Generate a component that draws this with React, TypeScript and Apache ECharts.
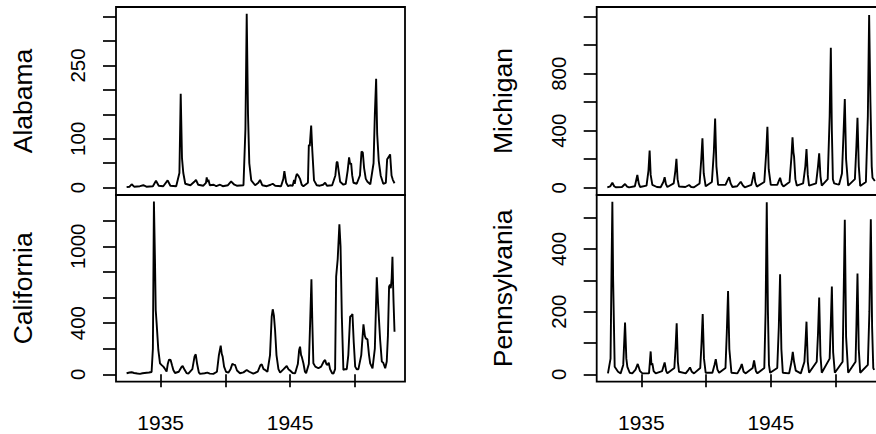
import React, { useEffect, useRef } from "react";
import * as echarts from "echarts";

const FONT = "'Liberation Sans', Arial, Helvetica, sans-serif";

const panelNames = ["Alabama", "California", "Michigan", "Pennsylvania"];

const xTickValues = [1935, 1940, 1945, 1950];
const xLabelValues = [1935, 1945];

const alabamaTicks = [0, 50, 100, 150, 200, 250, 300, 350];
const alabamaLabels = [0, 100, 250];
const californiaTicks = [0, 200, 400, 600, 800, 1000, 1200];
const californiaLabels = [0, 400, 1000];
const michiganTicks = [0, 200, 400, 600, 800, 1000, 1200];
const michiganLabels = [0, 400, 800];
const pennsylvaniaTicks = [0, 100, 200, 300, 400, 500];
const pennsylvaniaLabels = [0, 200, 400];

const alabama: [number, number][] = [
  [1932.37, 1], [1932.6, 2], [1932.76, 7], [1932.95, 2], [1933.4, 3], [1933.66, 5], [1933.9, 2],
  [1934.4, 3], [1934.64, 14], [1934.85, 4], [1935.2, 3], [1935.54, 15], [1935.75, 4], [1936.2, 3],
  [1936.45, 30], [1936.55, 192], [1936.65, 60], [1936.75, 30], [1936.9, 8], [1937.3, 5], [1937.6, 12],
  [1937.73, 16], [1937.9, 6], [1938.3, 4], [1938.5, 10], [1938.56, 21], [1938.62, 12], [1938.69, 16],
  [1938.8, 5], [1939.1, 6], [1939.3, 3], [1939.59, 6], [1939.8, 3], [1940.2, 5], [1940.45, 13],
  [1940.54, 10], [1940.7, 6], [1940.88, 4], [1941.4, 5], [1941.55, 120], [1941.65, 356], [1941.75, 150],
  [1941.85, 50], [1942.0, 15], [1942.3, 5], [1942.55, 10], [1942.68, 16], [1942.85, 5], [1943.2, 3],
  [1943.5, 6], [1943.66, 8], [1943.85, 4], [1944.3, 3], [1944.48, 18], [1944.56, 34], [1944.7, 10],
  [1944.85, 3], [1945.0, 5], [1945.2, 4], [1945.31, 16], [1945.36, 8], [1945.45, 22], [1945.52, 28],
  [1945.65, 24], [1945.77, 18], [1945.9, 6], [1946.03, 3], [1946.38, 10], [1946.45, 88], [1946.52, 85],
  [1946.63, 127], [1946.72, 75], [1946.85, 15], [1947.06, 5], [1947.3, 4], [1947.55, 6], [1947.71, 10],
  [1947.85, 4], [1948.25, 5], [1948.5, 25], [1948.6, 52], [1948.66, 53], [1948.75, 35], [1948.87, 12],
  [1949.12, 6], [1949.3, 8], [1949.45, 35], [1949.56, 62], [1949.64, 48], [1949.72, 50], [1949.8, 25],
  [1949.9, 10], [1950.15, 8], [1950.4, 25], [1950.52, 74], [1950.62, 72], [1950.72, 40], [1950.85, 18],
  [1950.98, 12], [1951.2, 7], [1951.45, 50], [1951.55, 150], [1951.65, 223], [1951.73, 110], [1951.85, 55],
  [1952.0, 25], [1952.2, 8], [1952.4, 10], [1952.5, 58], [1952.6, 62], [1952.73, 68], [1952.84, 25],
  [1952.94, 16], [1953.07, 9],
];

const california: [number, number][] = [
  [1932.37, 8], [1932.6, 14], [1932.76, 16], [1932.95, 10], [1933.2, 6], [1933.4, 3], [1933.6, 8],
  [1933.92, 12], [1934.1, 14], [1934.3, 18], [1934.4, 200], [1934.48, 1349], [1934.56, 900], [1934.62, 500],
  [1934.69, 398], [1934.82, 190], [1934.95, 86], [1935.1, 70], [1935.21, 60], [1935.35, 40], [1935.46, 21],
  [1935.55, 80], [1935.65, 115], [1935.77, 112], [1935.88, 70], [1935.98, 34], [1936.11, 10], [1936.4, 20],
  [1936.6, 55], [1936.7, 65], [1936.85, 35], [1937.0, 10], [1937.14, 5], [1937.45, 40], [1937.62, 140],
  [1937.71, 156], [1937.82, 80], [1937.95, 15], [1938.04, 3], [1938.4, 8], [1938.61, 13], [1938.8, 5],
  [1939.07, 3], [1939.35, 20], [1939.5, 150], [1939.64, 224], [1939.72, 160], [1939.79, 138], [1939.9, 60],
  [1940.05, 20], [1940.23, 13], [1940.4, 40], [1940.54, 81], [1940.65, 76], [1940.75, 73], [1940.9, 30],
  [1941.13, 8], [1941.4, 15], [1941.65, 34], [1941.85, 20], [1942.16, 5], [1942.5, 20], [1942.7, 70],
  [1942.81, 78], [1942.95, 40], [1943.07, 34], [1943.25, 20], [1943.45, 150], [1943.58, 450], [1943.66, 508],
  [1943.75, 460], [1943.84, 346], [1943.95, 150], [1944.1, 40], [1944.23, 13], [1944.5, 40], [1944.74, 65],
  [1944.87, 40], [1945.0, 30], [1945.2, 10], [1945.39, 8], [1945.6, 80], [1945.7, 190], [1945.77, 216],
  [1945.85, 150], [1945.9, 138], [1946.03, 86], [1946.15, 20], [1946.24, 8], [1946.45, 80], [1946.55, 400],
  [1946.65, 742], [1946.72, 400], [1946.8, 86], [1946.95, 60], [1947.19, 47], [1947.4, 60], [1947.6, 100],
  [1947.71, 112], [1947.8, 80], [1947.89, 73], [1947.99, 91], [1948.09, 40], [1948.25, 8], [1948.35, 5],
  [1948.48, 40], [1948.56, 763], [1948.68, 900], [1948.81, 1172], [1948.9, 1000], [1949.0, 450], [1949.12, 34],
  [1949.25, 40], [1949.38, 40], [1949.5, 150], [1949.64, 450], [1949.75, 460], [1949.82, 471], [1949.92, 250],
  [1950.03, 60], [1950.15, 40], [1950.28, 40], [1950.5, 150], [1950.67, 391], [1950.78, 300], [1950.85, 281],
  [1950.98, 273], [1951.1, 150], [1951.19, 86], [1951.37, 47], [1951.55, 200], [1951.7, 758], [1951.8, 550],
  [1951.96, 268], [1952.09, 99], [1952.2, 90], [1952.35, 47], [1952.47, 100], [1952.56, 300], [1952.65, 685],
  [1952.72, 700], [1952.78, 672], [1952.85, 750], [1952.91, 919], [1952.96, 700], [1952.99, 581], [1953.07, 333],
];

const michigan: [number, number][] = [
  [1932.37, 3], [1932.6, 10], [1932.76, 35], [1932.9, 10], [1933.02, 3], [1933.5, 5], [1933.74, 26],
  [1933.9, 8], [1934.05, 2], [1934.5, 10], [1934.69, 89], [1934.8, 30], [1934.9, 5], [1935.4, 15],
  [1935.55, 120], [1935.64, 260], [1935.72, 90], [1935.85, 20], [1936.2, 5], [1936.49, 3], [1936.7, 40],
  [1936.8, 73], [1936.9, 25], [1937.01, 5], [1937.5, 30], [1937.63, 120], [1937.71, 203], [1937.8, 60],
  [1937.91, 8], [1938.4, 5], [1938.69, 19], [1938.85, 5], [1939.07, 3], [1939.5, 30], [1939.63, 200],
  [1939.72, 346], [1939.82, 100], [1939.97, 10], [1940.45, 40], [1940.6, 250], [1940.7, 486], [1940.8, 150],
  [1940.93, 20], [1941.5, 20], [1941.7, 60], [1941.78, 73], [1941.9, 30], [1942.04, 5], [1942.4, 10],
  [1942.68, 42], [1942.85, 15], [1942.99, 3], [1943.5, 20], [1943.71, 108], [1943.8, 40], [1943.92, 8],
  [1944.5, 40], [1944.65, 250], [1944.74, 428], [1944.84, 130], [1945.0, 20], [1945.5, 20], [1945.72, 70],
  [1945.85, 25], [1945.98, 8], [1946.45, 40], [1946.6, 220], [1946.68, 353], [1946.75, 250], [1946.8, 218],
  [1946.9, 60], [1947.01, 15], [1947.5, 30], [1947.67, 150], [1947.76, 271], [1947.86, 90], [1947.96, 15],
  [1948.5, 30], [1948.65, 150], [1948.74, 241], [1948.84, 80], [1948.94, 15], [1949.4, 60], [1949.55, 500],
  [1949.64, 982], [1949.72, 400], [1949.8, 60], [1949.9, 30], [1950.1, 25], [1950.28, 22], [1950.5, 100],
  [1950.63, 400], [1950.72, 622], [1950.82, 200], [1950.98, 15], [1951.5, 60], [1951.62, 300], [1951.7, 491],
  [1951.8, 150], [1951.91, 12], [1952.35, 40], [1952.5, 500], [1952.6, 1212], [1952.7, 600], [1952.8, 150],
  [1952.86, 70], [1953.04, 47],
];

const pennsylvania: [number, number][] = [
  [1932.42, 3], [1932.62, 50], [1932.7, 350], [1932.76, 551], [1932.82, 300], [1932.94, 24], [1933.2, 8],
  [1933.4, 3], [1933.6, 30], [1933.74, 165], [1933.84, 50], [1933.92, 24], [1934.1, 5], [1934.3, 3],
  [1934.55, 15], [1934.72, 33], [1934.9, 10], [1935.08, 3], [1935.59, 3], [1935.66, 40], [1935.72, 73],
  [1935.78, 30], [1935.85, 35], [1935.95, 10], [1936.11, 3], [1936.6, 10], [1936.8, 38], [1936.92, 10],
  [1937.01, 3], [1937.55, 20], [1937.65, 90], [1937.73, 163], [1937.82, 40], [1937.91, 8], [1938.43, 3],
  [1938.65, 15], [1938.76, 22], [1938.9, 8], [1939.07, 3], [1939.55, 20], [1939.65, 100], [1939.74, 192],
  [1939.84, 50], [1939.97, 5], [1940.49, 5], [1940.65, 30], [1940.75, 48], [1940.88, 15], [1941.01, 5],
  [1941.5, 20], [1941.6, 130], [1941.7, 266], [1941.8, 80], [1941.96, 5], [1942.42, 3], [1942.65, 20],
  [1942.76, 33], [1942.9, 8], [1943.07, 3], [1943.6, 20], [1943.71, 44], [1943.85, 10], [1943.97, 3],
  [1944.5, 20], [1944.6, 200], [1944.69, 549], [1944.78, 200], [1944.86, 30], [1944.95, 5], [1945.5, 20],
  [1945.62, 150], [1945.72, 319], [1945.82, 80], [1945.93, 5], [1946.42, 3], [1946.6, 40], [1946.7, 72],
  [1946.8, 40], [1946.93, 12], [1947.32, 3], [1947.6, 40], [1947.68, 100], [1947.76, 168], [1947.86, 40],
  [1947.96, 5], [1948.55, 40], [1948.65, 130], [1948.74, 245], [1948.84, 60], [1948.94, 5], [1949.55, 50],
  [1949.63, 150], [1949.72, 280], [1949.82, 70], [1949.95, 5], [1950.55, 40], [1950.63, 250], [1950.72, 493],
  [1950.82, 120], [1950.98, 5], [1951.55, 40], [1951.62, 160], [1951.7, 322], [1951.8, 80], [1951.91, 5],
  [1952.5, 30], [1952.62, 200], [1952.73, 495], [1952.83, 150], [1952.92, 20], [1952.99, 14],
];

const X_MIN = 1931.55;
const X_MAX = 1953.88;

const plain = (v: number) => String(v);

export default function App() {
  const ref = useRef<HTMLDivElement>(null);
  useEffect(() => {
    if (!ref.current) return;
    const chart = echarts.init(ref.current, undefined, { renderer: "svg" });

    const LEFT_L = 116;
    const LEFT_R = 596.7;
    const W = 289;
    const TOP_T = 7;
    const TOP_H = 188;
    const BOT_T = 195;
    const BOT_H = 186.7;

    const panels = [
      { name: panelNames[0], data: alabama, ticks: alabamaTicks, labels: alabamaLabels, min: -15, max: 369.7, left: LEFT_L, top: TOP_T, height: TOP_H, bottom: false },
      { name: panelNames[1], data: california, ticks: californiaTicks, labels: californiaLabels, min: -57.8, max: 1400.8, left: LEFT_L, top: BOT_T, height: BOT_H, bottom: true },
      { name: panelNames[2], data: michigan, ticks: michiganTicks, labels: michiganLabels, min: -51.2, max: 1268, left: LEFT_R, top: TOP_T, height: TOP_H, bottom: false },
      { name: panelNames[3], data: pennsylvania, ticks: pennsylvaniaTicks, labels: pennsylvaniaLabels, min: -23.6, max: 572.3, left: LEFT_R, top: BOT_T, height: BOT_H, bottom: true },
    ];

    const option: any = {
      animation: false,
      backgroundColor: "#ffffff",
      grid: panels.map((p) => ({
        left: p.left,
        top: p.top,
        width: W,
        height: p.height,
        show: true,
        borderColor: "#000",
        borderWidth: 1.8,
        backgroundColor: "transparent",
        containLabel: false,
      })),
      xAxis: panels.map((p, i) => ({
        gridIndex: i,
        type: "value",
        min: X_MIN,
        max: X_MAX,
        axisLine: { show: false },
        splitLine: { show: false },
        axisTick: {
          show: p.bottom,
          customValues: xTickValues,
          length: 13,
          lineStyle: { color: "#000", width: 1.7 },
        },
        axisLabel: {
          show: p.bottom,
          customValues: xLabelValues,
          formatter: plain,
          margin: 30,
          fontSize: 21,
          color: "#000",
          fontFamily: FONT,
        },
      })),
      yAxis: panels.map((p, i) => ({
        gridIndex: i,
        type: "value",
        min: p.min,
        max: p.max,
        axisLine: { show: false },
        splitLine: { show: false },
        axisTick: {
          show: true,
          customValues: p.ticks,
          length: 13,
          lineStyle: { color: "#000", width: 1.7 },
        },
        axisLabel: {
          show: true,
          customValues: p.labels,
          formatter: plain,
          rotate: 90,
          margin: 28,
          fontSize: 20.5,
          color: "#000",
          fontFamily: FONT,
        },
      })),
      series: panels.map((p, i) => ({
        type: "line",
        xAxisIndex: i,
        yAxisIndex: i,
        data: p.data,
        showSymbol: false,
        symbol: "none",
        lineStyle: { color: "#000", width: 1.9 },
        silent: true,
      })),
      graphic: panels.map((p) => ({
        type: "text",
        x: p.left === LEFT_L ? 22.5 : 502.5,
        y: p.top + p.height / 2,
        rotation: Math.PI / 2,
        style: {
          text: p.name,
          fill: "#000",
          fontSize: 26.5,
          fontFamily: FONT,
          align: "center",
          verticalAlign: "middle",
        },
      })),
    };

    chart.setOption(option);
    return () => chart.dispose();
  }, []);

  return (
    <div
      style={{
        position: "fixed",
        left: 0,
        top: 0,
        width: 876,
        height: 434,
        overflow: "hidden",
        background: "#fff",
      }}
    >
      <div ref={ref} style={{ width: 900, height: 434 }} />
    </div>
  );
}
